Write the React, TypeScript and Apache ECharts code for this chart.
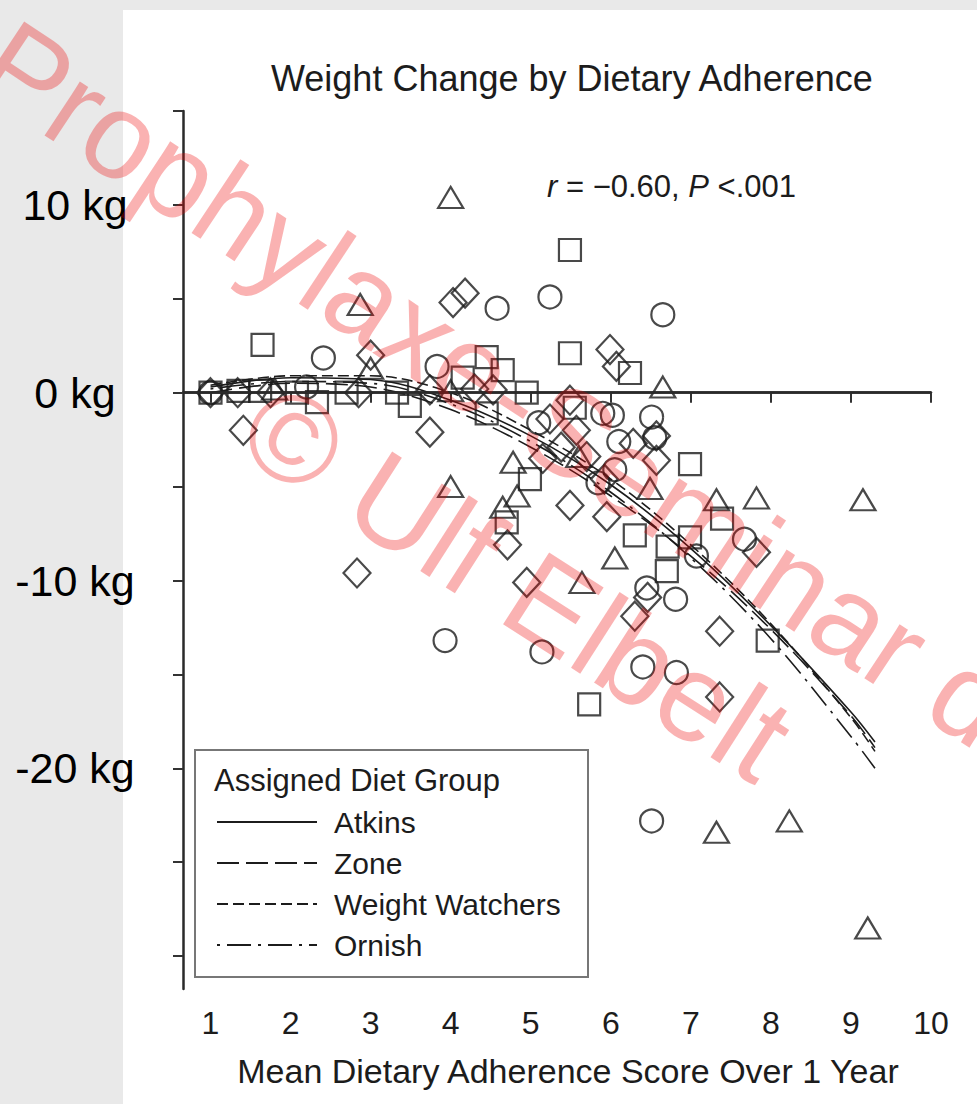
import React, { useEffect, useRef } from "react";
import * as echarts from "echarts";

const FONT = "'Liberation Sans', Arial, Helvetica, sans-serif";
const INK = "#1c1c1c";

// Axis ticks and labels
const xTickValues = [1, 2, 3, 4, 5, 6, 7, 8, 9, 10];
const yTickValues = [-30, -25, -20, -15, -10, -5, 0, 5, 10, 15];
const yLabelValues = [-20, -10, 0, 10];

// Individual participants: [adherence score, weight change in kg]
const atkinsPoints: [number, number][] = [
  [1.0, 0], [2.2, 0.3], [2.41, 1.85], [3.83, 1.4], [4.58, 4.5], [5.24, 5.1],
  [6.65, 4.15], [3.93, -13.2], [5.14, -13.8], [6.51, -22.8], [6.4, -14.6],
  [6.82, -14.9], [6.81, -11.0], [7.07, -8.7], [7.67, -7.8], [6.02, -1.2],
  [6.51, -1.3], [6.05, -4.1], [5.84, -4.8], [6.55, -2.4], [6.1, -2.6],
  [5.9, -1.1], [5.1, -1.6], [6.45, -10.4],
];
const zonePoints: [number, number][] = [
  [4.0, 10.4], [2.87, 4.7], [3.0, 1.3], [4.0, 0.1], [1.8, 0.2], [4.0, -5.0],
  [4.78, -3.7], [4.83, -5.5], [4.65, -6.1], [5.64, -10.1], [6.05, -8.8],
  [6.49, -5.1], [6.65, 0.3], [7.32, -5.7], [7.82, -5.6], [9.15, -5.7],
  [7.32, -23.4], [8.23, -22.8], [9.21, -28.5], [5.6, -3.4],
];
const weightWatchersPoints: [number, number][] = [
  [1.0, 0], [1.35, 0.1], [1.62, 0.1], [1.65, 2.55], [2.08, 0], [2.33, -0.5],
  [2.7, 0], [3.33, 0], [3.49, -0.7], [4.15, 0.8], [4.45, 1.9], [4.65, 1.2],
  [4.45, -1.1], [4.95, 0], [5.49, 7.6], [5.49, 2.1], [6.24, 1.05], [4.99, -4.6],
  [4.7, -6.9], [6.3, -7.6], [6.71, -8.2], [6.7, -9.5], [6.99, -3.8], [6.99, -7.7],
  [7.39, -6.7], [7.96, -13.2], [5.73, -16.6], [5.55, -0.8],
];
const ornishPoints: [number, number][] = [
  [1.0, 0], [1.34, 0], [1.41, -2.0], [1.75, 0], [2.85, 0], [3.0, 2.0],
  [2.83, -9.6], [3.74, -2.1], [3.74, 0.15], [4.03, 4.8], [4.18, 5.3], [4.3, 0.2],
  [4.53, 0.15], [4.71, -8.1], [4.95, -10.1], [5.15, -3.5], [5.24, -1.4],
  [5.38, -2.9], [5.49, -0.4], [5.49, -6.0], [5.57, -2.0], [5.7, -3.4],
  [5.92, -4.6], [5.99, 2.3], [6.07, 1.4], [6.28, -2.7], [6.57, -2.3],
  [6.57, -3.6], [5.95, -6.6], [6.46, -10.9], [6.3, -11.9], [7.36, -12.7],
  [7.36, -16.2], [7.82, -8.5],
];

// Fitted curves per diet group
const curveX = [1, 2, 3, 4, 5, 6, 7, 8, 9, 9.3];
const atkinsCurve = [0.3, 0.8, 0.7, -0.4, -2.3, -4.9, -8.3, -12.4, -17.0, -18.6];
const zoneCurve = [0.0, 0.5, 0.3, -0.9, -2.9, -5.5, -8.7, -12.6, -17.2, -18.9];
const weightWatchersCurve = [0.4, 0.9, 0.9, 0.0, -2.0, -4.6, -8.1, -12.3, -17.3, -19.1];
const ornishCurve = [0.2, 0.6, 0.5, -0.6, -2.6, -5.3, -8.8, -13.1, -18.3, -20.0];

const groupNames = ["Atkins", "Zone", "Weight Watchers", "Ornish"];

function scatterSeries(name: string, data: [number, number][], symbol: string, size: number | number[]) {
  return {
    type: "scatter",
    name,
    data,
    symbol,
    symbolSize: size,
    silent: true,
    z: 2,
    itemStyle: { color: "rgba(0,0,0,0)", borderColor: INK, borderWidth: 2.2 },
  };
}

function curveSeries(name: string, ys: number[], dash: any) {
  return {
    type: "line",
    name,
    data: curveX.map((x, i) => [x, ys[i]]),
    smooth: 0.35,
    symbol: "none",
    showSymbol: false,
    silent: true,
    z: 3,
    itemStyle: { color: INK },
    lineStyle: { color: INK, width: 1.6, type: dash },
  };
}

export default function App() {
  const ref = useRef<HTMLDivElement>(null);

  useEffect(() => {
    if (!ref.current) return;
    const chart = echarts.init(ref.current, null, { renderer: "svg" });

    chart.setOption({
      animation: false,
      backgroundColor: "#e9e9e9",
      title: {
        text: "Weight Change by Dietary Adherence",
        left: 271,
        top: 60,
        padding: 0,
        textStyle: { fontFamily: FONT, fontSize: 36, fontWeight: "normal", color: INK },
      },
      grid: { left: 183, top: 111, width: 748, height: 878, containLabel: false },
      xAxis: {
        type: "value",
        min: 0.6565,
        max: 10,
        name: "Mean Dietary Adherence Score Over 1 Year",
        nameLocation: "middle",
        nameGap: 65,
        nameTextStyle: { fontFamily: FONT, fontSize: 34, color: INK, padding: [0, 0, 0, 22] },
        splitLine: { show: false },
        axisLine: { lineStyle: { color: "#2a2a2a", width: 2.5 } },
        axisTick: { customValues: xTickValues, length: 10, lineStyle: { color: "#333", width: 2 } },
        axisLabel: {
          customValues: xTickValues,
          fontFamily: FONT,
          fontSize: 32,
          color: INK,
          margin: 18,
        },
      },
      yAxis: {
        type: "value",
        min: -31.75,
        max: 15,
        splitLine: { show: false },
        axisLine: { lineStyle: { color: "#2a2a2a", width: 2.5 } },
        axisTick: { customValues: yTickValues, length: 10, lineStyle: { color: "#333", width: 2 } },
        axisLabel: {
          customValues: yLabelValues,
          formatter: (v: number) => `${v} kg`,
          fontFamily: FONT,
          fontSize: 43,
          color: "#000",
          align: "center",
          margin: 108,
          padding: [0, 0, 6, 0],
        },
      },
      legend: {
        data: groupNames,
        orient: "vertical",
        left: 216,
        top: 805,
        padding: 0,
        itemWidth: 100,
        itemHeight: 14,
        itemGap: 7,
        selectedMode: false,
        z: 6,
        itemStyle: { opacity: 0 },
        lineStyle: { width: 2 },
        textStyle: { fontFamily: FONT, fontSize: 30, color: INK, lineHeight: 34, padding: [0, 0, 0, 12] },
      },
      graphic: [
        {
          type: "rect",
          z: -10,
          silent: true,
          shape: { x: 123, y: 10, width: 854, height: 1094 },
          style: { fill: "#ffffff" },
        },
        {
          type: "rect",
          z: 4,
          silent: true,
          shape: { x: 195, y: 750, width: 393, height: 227 },
          style: { fill: "#ffffff", stroke: "#777", lineWidth: 2 },
        },
        {
          type: "text",
          z: 6,
          x: 214,
          y: 780,
          silent: true,
          style: {
            text: "Assigned Diet Group",
            fontFamily: FONT,
            fontSize: 31,
            fill: INK,
            verticalAlign: "middle",
          },
        },
        {
          type: "text",
          z: 6,
          x: 547,
          y: 186,
          silent: true,
          style: {
            text: "{i|r} = −0.60, {i|P} <.001",
            fontFamily: FONT,
            fontSize: 31,
            fill: INK,
            verticalAlign: "middle",
            rich: { i: { fontStyle: "italic", fontFamily: FONT, fontSize: 31, fill: INK } },
          },
        },
        {
          type: "text",
          z: 100,
          x: 496,
          y: 384,
          rotation: -0.585,
          silent: true,
          style: {
            text: "Prophylaxe-Seminar d",
            fontFamily: FONT,
            fontSize: 122,
            fill: "rgba(240,0,0,0.3)",
            align: "center",
            verticalAlign: "middle",
          },
        },
        {
          type: "text",
          z: 100,
          x: 517,
          y: 582,
          rotation: -0.57,
          silent: true,
          style: {
            text: "© Ulf Elbelt",
            fontFamily: FONT,
            fontSize: 124,
            fill: "rgba(240,0,0,0.3)",
            align: "center",
            verticalAlign: "middle",
          },
        },
      ],
      series: [
        scatterSeries("Atkins participants", atkinsPoints, "circle", 23),
        scatterSeries("Zone participants", zonePoints, "triangle", [25, 21]),
        scatterSeries("Weight Watchers participants", weightWatchersPoints, "rect", 22),
        scatterSeries("Ornish participants", ornishPoints, "diamond", [27, 29]),
        {
          ...curveSeries("Atkins", atkinsCurve, "solid"),
          markLine: {
            silent: true,
            symbol: "none",
            label: { show: false },
            lineStyle: { color: "#2a2a2a", width: 2.5, type: "solid" },
            data: [{ yAxis: 0 }],
          },
        },
        curveSeries("Zone", zoneCurve, [22, 7]),
        curveSeries("Weight Watchers", weightWatchersCurve, [11, 5]),
        curveSeries("Ornish", ornishCurve, [3, 7, 24, 7]),
      ],
    });

    return () => chart.dispose();
  }, []);

  return (
    <div
      ref={ref}
      style={{ position: "fixed", left: 0, top: 0, width: 977, height: 1104 }}
    />
  );
}
